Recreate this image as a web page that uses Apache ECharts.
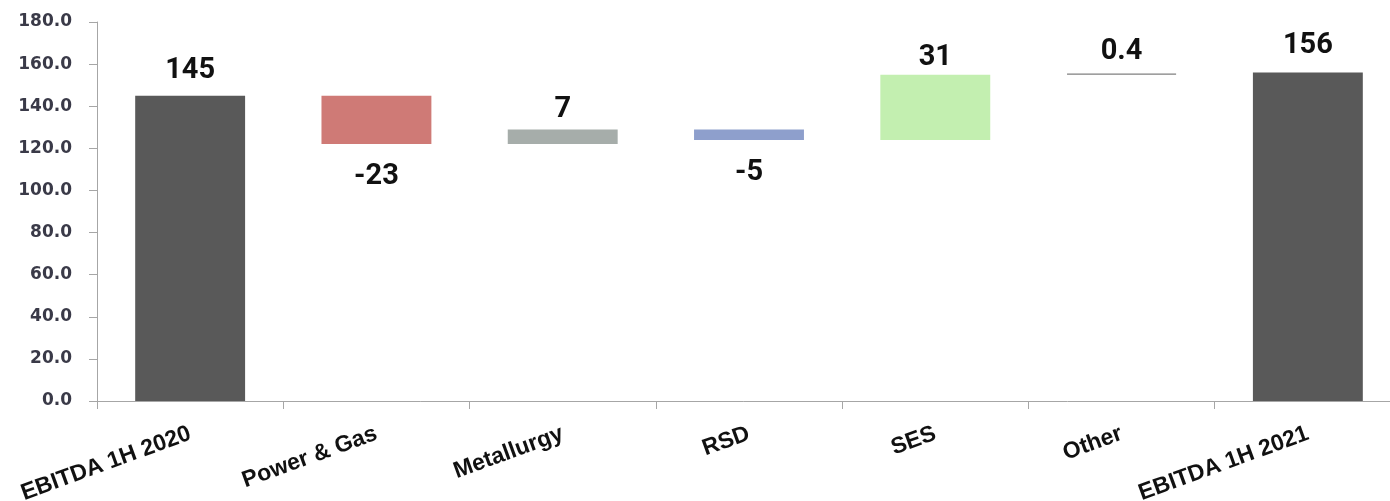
<!DOCTYPE html>
<html>
<head>
<meta charset="utf-8">
<script src="https://cdn.jsdelivr.net/npm/echarts@6/dist/echarts.min.js"></script>
<style>
  html, body { margin: 0; padding: 0; background: #fff; overflow: hidden; }
  #chart { width: 1390px; height: 501px; }
</style>
</head>
<body>
<div id="chart"></div>
<script>
// EBITDA bridge: 1H 2020 -> 1H 2021, by segment
const categories = ['EBITDA 1H 2020', 'Power & Gas', 'Metallurgy', 'RSD', 'SES', 'Other', 'EBITDA 1H 2021'];
const startValue = 145;
const deltas = [-23, 7, -5, 31, 0.4];
const endValue = 156;
const barColors = ['#595959', '#CF7A76', '#A6ADAA', '#8E9FCC', '#C3EFB0', '#7F7F7F', '#595959'];
// gap between each bar and its value label
const labelGaps = [10, 18, 5, 18, 2, 7, 12];
const yTicks = { min: 0, max: 180, interval: 20 };

// Build invisible base + visible floating segment for each step
const baseData = [0];
const barData = [];
let running = startValue;
barData.push({ value: startValue, delta: startValue });
deltas.forEach(d => {
  const next = running + d;
  baseData.push(Math.min(running, next));
  barData.push({ value: Math.abs(d), delta: d });
  running = next;
});
baseData.push(0);
barData.push({ value: endValue, delta: endValue });

const labelFont = { fontFamily: 'Roboto', fontWeight: 'bold', fontSize: 29, color: '#111' };

const visible = barData.map((b, i) => {
  const neg = b.delta < 0;
  const item = {
    value: b.value,
    itemStyle: { color: barColors[i] },
    label: {
      show: true,
      position: neg ? 'bottom' : 'top',
      distance: labelGaps[i],
      formatter: () => String(b.delta),
      ...labelFont
    }
  };
  if (i === 5) {
    item.itemStyle.borderColor = '#808080';
    item.itemStyle.borderWidth = 1.2;
  }
  return item;
});

const chart = echarts.init(document.getElementById('chart'), null, { renderer: 'canvas' });
chart.setOption({
  animation: false,
  grid: {
    left: 97, top: 22, width: 1304, height: 379,
    containLabel: false,
    outerBoundsMode: 'none'
  },
  xAxis: {
    type: 'category',
    data: categories,
    axisLine: { lineStyle: { color: '#A6A6A6', width: 1 } },
    axisTick: { show: true, length: 8, lineStyle: { color: '#A6A6A6' } },
    axisLabel: {
      interval: 0,
      rotate: 20,
      margin: 32,
      fontFamily: 'Liberation Sans',
      fontWeight: 'bold',
      fontSize: 23,
      color: '#111'
    }
  },
  yAxis: {
    type: 'value',
    min: yTicks.min,
    max: yTicks.max,
    interval: yTicks.interval,
    splitLine: { show: false },
    axisLine: { show: true, lineStyle: { color: '#A6A6A6', width: 1 } },
    axisTick: { show: true, length: 8, lineStyle: { color: '#A6A6A6' } },
    axisLabel: {
      margin: 25,
      formatter: v => v.toFixed(1),
      fontFamily: 'DejaVu Sans',
      fontWeight: 'bold',
      fontSize: 17,
      color: '#3A3A48'
    }
  },
  series: [
    {
      type: 'bar',
      stack: 'bridge',
      data: baseData,
      itemStyle: { color: 'transparent' },
      emphasis: { disabled: true },
      silent: true,
      barWidth: '59%'
    },
    {
      type: 'bar',
      stack: 'bridge',
      data: visible,
      barWidth: '59%'
    }
  ]
});
</script>
</body>
</html>
